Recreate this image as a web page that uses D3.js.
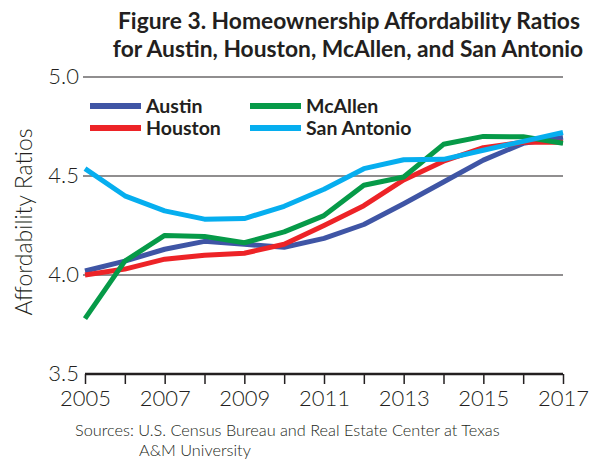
<!DOCTYPE html>
<html>
<head>
<meta charset="utf-8">
<script src="https://cdn.jsdelivr.net/npm/d3@7"></script>
<style>
  body { margin: 0; background: #fff; }
  text { font-family: Lato, "Open Sans", sans-serif; fill: #231f20; }
  .light { font-weight: 300; }
</style>
</head>
<body>
<div id="chart"></div>
<script>
(function () {

  // data
  var years = [2005, 2006, 2007, 2008, 2009, 2010, 2011, 2012, 2013, 2014, 2015, 2016, 2017];
  var austin = [4.02, 4.07, 4.13, 4.17, 4.155, 4.14, 4.185, 4.255, 4.36, 4.47, 4.58, 4.665, 4.695];
  var houston = [4.0, 4.03, 4.08, 4.10, 4.11, 4.155, 4.25, 4.35, 4.48, 4.575, 4.643, 4.67, 4.67];
  var mcallen = [3.78, 4.07, 4.20, 4.195, 4.163, 4.218, 4.30, 4.453, 4.495, 4.66, 4.70, 4.698, 4.665];
  var sanAntonio = [4.537, 4.40, 4.324, 4.282, 4.285, 4.347, 4.433, 4.537, 4.582, 4.584, 4.63, 4.675, 4.72];
  var yTicks = [3.5, 4.0, 4.5, 5.0];
  var xTicks = [2005, 2007, 2009, 2011, 2013, 2015, 2017];

  var series = [
    { name: "Austin", values: austin, color: "#3f55a5" },
    { name: "Houston", values: houston, color: "#ed2327" },
    { name: "McAllen", values: mcallen, color: "#069a48" },
    { name: "San Antonio", values: sanAntonio, color: "#06aeef" }
  ];

  var width = 591;
  var height = 464;

  var svg = d3.select("#chart")
    .append("svg")
    .attr("width", width)
    .attr("height", height)

  var x = d3.scaleLinear().domain([2005, 2017]).range([85, 563]);
  var y = d3.scaleLinear().domain([3.5, 5.0]).range([374, 77]);

  // title
  svg.append("text")
    .attr("x", 349).attr("y", 29)
    .attr("text-anchor", "middle")
    .style("font-weight", "bold").style("font-size", "22.8px")
    .text("Figure 3. Homeownership Affordability Ratios");
  svg.append("text")
    .attr("x", 348).attr("y", 57)
    .attr("text-anchor", "middle")
    .style("font-weight", "bold").style("font-size", "22.8px")
    .text("for Austin, Houston, McAllen, and San Antonio");

  // gridlines
  svg.append("g")
    .selectAll("line")
    .data(yTicks.filter(function (d) { return d > 3.5; }))
    .enter()
      .append("line")
      .attr("x1", 83).attr("x2", 563)
      .attr("y1", function (d) { return y(d); })
      .attr("y2", function (d) { return y(d); })
      .attr("stroke", "#231f20")
      .attr("stroke-width", 1.2)

  // y labels
  svg.append("g")
    .selectAll("text")
    .data(yTicks)
    .enter()
      .append("text")
      .attr("class", "light")
      .attr("x", 79)
      .attr("y", function (d) { return y(d) + 7; })
      .attr("text-anchor", "end")
      .style("font-size", "22px")
      .text(function (d) { return d.toFixed(1); })

  // x axis
  var xAxis = d3.axisBottom(x)
    .tickValues(years)
    .tickSize(10)
    .tickFormat(function (d) { return xTicks.indexOf(d) >= 0 ? d : ""; })

  var gx = svg.append("g")
    .attr("transform", "translate(0," + y(3.5) + ")")
    .call(xAxis)
  gx.select(".domain").attr("stroke", "#231f20").attr("stroke-width", 2.5).attr("d", "M85,0H563");
  gx.selectAll(".tick line").attr("stroke", "#231f20").attr("stroke-width", 1.5);
  gx.selectAll(".tick text")
    .attr("class", "light")
    .attr("y", 16)
    .attr("fill", "#231f20")
    .style("font-family", "Lato, sans-serif")
    .style("font-size", "22px")

  // y axis title
  svg.append("text")
    .attr("class", "light")
    .attr("transform", "translate(32,222) rotate(-90)")
    .attr("text-anchor", "middle")
    .style("font-size", "23px")
    .text("Affordability Ratios")

  // lines
  var line = d3.line()
    .x(function (d, i) { return x(years[i]); })
    .y(function (d) { return y(d); })

  svg.append("g")
    .selectAll("path")
    .data(series)
    .enter()
      .append("path")
      .attr("fill", "none")
      .attr("stroke", function (d) { return d.color; })
      .attr("stroke-width", 5)
      .attr("stroke-linejoin", "round")
      .attr("d", function (d) { return line(d.values); })

  // legend
  var legendPos = [[90, 106], [90, 128], [250, 106], [250, 128]];
  var legend = svg.append("g")
    .selectAll("g")
    .data(series)
    .enter()
      .append("g")
      .attr("transform", function (d, i) { return "translate(" + legendPos[i][0] + "," + legendPos[i][1] + ")"; })

  legend.append("line")
    .attr("x1", 0).attr("x2", 51)
    .attr("stroke", function (d) { return d.color; })
    .attr("stroke-width", 6)
  legend.append("text")
    .attr("x", 56).attr("y", 7)
    .style("font-weight", "bold").style("font-size", "19.5px")
    .text(function (d) { return d.name; })

  // source
  svg.append("text")
    .attr("class", "light")
    .attr("x", 75).attr("y", 436)
    .style("font-size", "16.3px")
    .text("Sources: U.S. Census Bureau and Real Estate Center at Texas")
  svg.append("text")
    .attr("class", "light")
    .attr("x", 139).attr("y", 456)
    .style("font-size", "16.3px")
    .text("A&M University")

})();
</script>
</body>
</html>
